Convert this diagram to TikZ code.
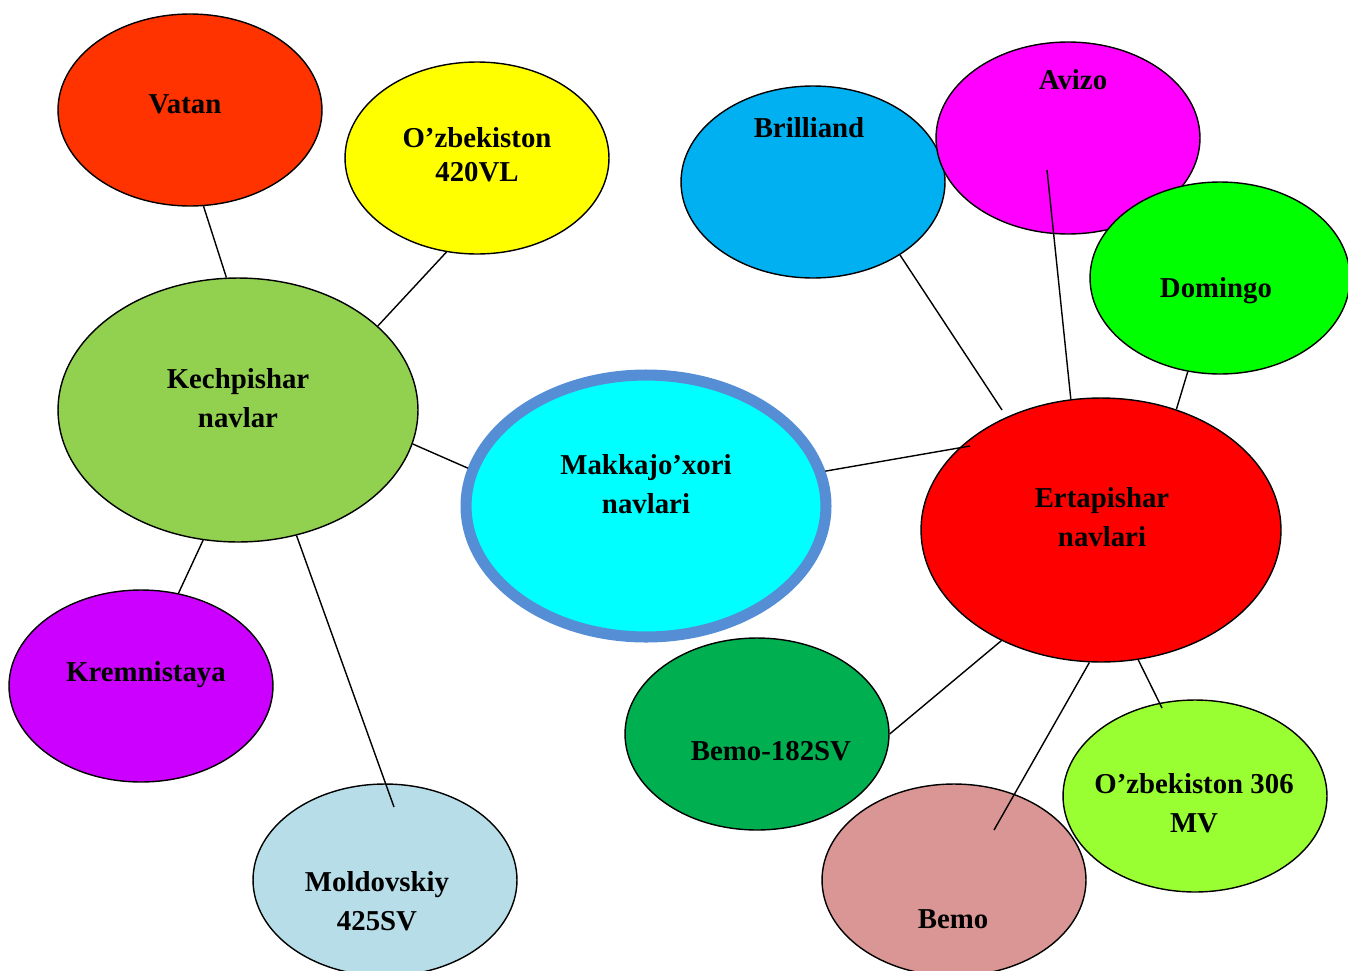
\documentclass[tikz,border=0pt]{standalone}
\usepackage{fontspec}
\setmainfont{Liberation Serif}
\usetikzlibrary{shapes.geometric,calc}
\definecolor{cVatan}{HTML}{FF3300}
\definecolor{cYel}{HTML}{FFFF00}
\definecolor{cKech}{HTML}{92D050}
\definecolor{cMak}{HTML}{00FFFF}
\definecolor{cMakB}{HTML}{558ED5}
\definecolor{cBril}{HTML}{00B0F0}
\definecolor{cAviz}{HTML}{FF00FF}
\definecolor{cDom}{HTML}{00FF00}
\definecolor{cErt}{HTML}{FF0000}
\definecolor{cKrem}{HTML}{CC00FF}
\definecolor{cMold}{HTML}{B7DEE8}
\definecolor{cBemoA}{HTML}{00B050}
\definecolor{cBemo}{HTML}{D99694}
\definecolor{cUzb}{HTML}{99FF33}
\tikzset{
  ell/.style={ellipse, draw=black, line width=0.8pt, inner sep=0pt},
  small/.style={ell, minimum width=5.28cm, minimum height=3.84cm},
  big/.style={ell, minimum width=7.2cm, minimum height=5.28cm},
  lbl/.style={font=\bfseries\fontsize{16.4}{22}\selectfont, align=center, inner sep=0pt},
  conn/.style={draw=black, line width=0.8pt}
}
\begin{document}
\begin{tikzpicture}[x=0.02cm, y=-0.02cm]
\useasboundingbox (0,0) rectangle (1348,970);
% ellipses
\node[small, fill=cVatan] (vatan) at (190,110) {};
\node[small, fill=cYel] (uzbA) at (477,158) {};
\node[big, fill=cKech] (kech) at (238,410) {};
\node[ell, draw=cMakB, line width=6.3pt, fill=cMak, minimum width=7.2cm, minimum height=5.24cm] (mak) at (646,506) {};
\node[small, fill=cBril] (bril) at (813,182) {};
\node[small, fill=cAviz] (aviz) at (1068,138) {};
\node[ell, fill=cDom, minimum width=5.2cm, minimum height=3.84cm] (dom) at (1220,278) {};
\node[big, fill=cErt] (ert) at (1101,530) {};
\node[small, fill=cKrem] (krem) at (141,686) {};
\node[small, fill=cMold] (mold) at (385,880) {};
\node[small, fill=cBemoA] (bemoA) at (757,734) {};
\node[small, fill=cBemo] (bemo) at (954,880) {};
\node[small, fill=cUzb] (uzbB) at (1195,796) {};
% named inner end points
\coordinate (moldIn) at ($(mold.center)+(9,-73)$);
\coordinate (ertInA) at ($(ert.center)+(-131,-84)$);
\coordinate (ertInB) at ($(ert.center)+(-99,-120)$);
\coordinate (avizIn) at ($(aviz.center)+(-21,32)$);
\coordinate (bemoIn) at ($(bemo.center)+(40,-50)$);
\coordinate (uzbBIn) at ($(uzbB.center)+(-33,-88)$);
% connectors
\draw[conn] (vatan.-82.9) -- (kech.95.2);
\draw[conn] (uzbA.252.6) -- (kech.31.7);
\draw[conn] (kech.-11.3) -- (mak.168.6);
\draw[conn] (kech.-105.3) -- (krem.68.7);
\draw[conn] (kech.-65.6) -- (moldIn);
\draw[conn] (mak.11.3) -- (ertInA);
\draw[conn] (bril.-40.3) -- (ertInB);
\draw[conn] (avizIn) -- (ert.103);
\draw[conn] (dom.-109.5) -- (ert.58);
\draw[conn] (ert.-132.6) -- (bemoA.0);
\draw[conn] (ert.-95.2) -- (bemoIn);
\draw[conn] (ert.-74.2) -- (uzbBIn);
% labels
\node[lbl] (tVatan) at (185,104) {Vatan};
\node[lbl, font=\bfseries\fontsize{16.4}{19.5}\selectfont] (tUzbA) at (477,155) {O’zbekiston\\420VL};
\node[lbl] (tKech) at (238,398) {Kechpishar\\navlar};
\node[lbl] (tMak) at (646,484) {Makkajo’xori\\navlari};
\node[lbl] (tBril) at (809,128) {Brilliand};
\node[lbl] (tAviz) at (1073,80) {Avizo};
\node[lbl] (tDom) at (1216,291) {Domingo};
\node[lbl] (tErt) at (1102,517) {Ertapishar\\navlari};
\node[lbl] (tKrem) at (146,675) {Kremnistaya};
\node[lbl] (tMold) at (377,901) {Moldovskiy\\425SV};
\node[lbl] (tBemoA) at (771,751) {Bemo-182SV};
\node[lbl] (tBemo) at (953,919) {Bemo};
\node[lbl] (tUzbB) at (1194,803) {O’zbekiston 306\\MV};
\end{tikzpicture}
\end{document}
